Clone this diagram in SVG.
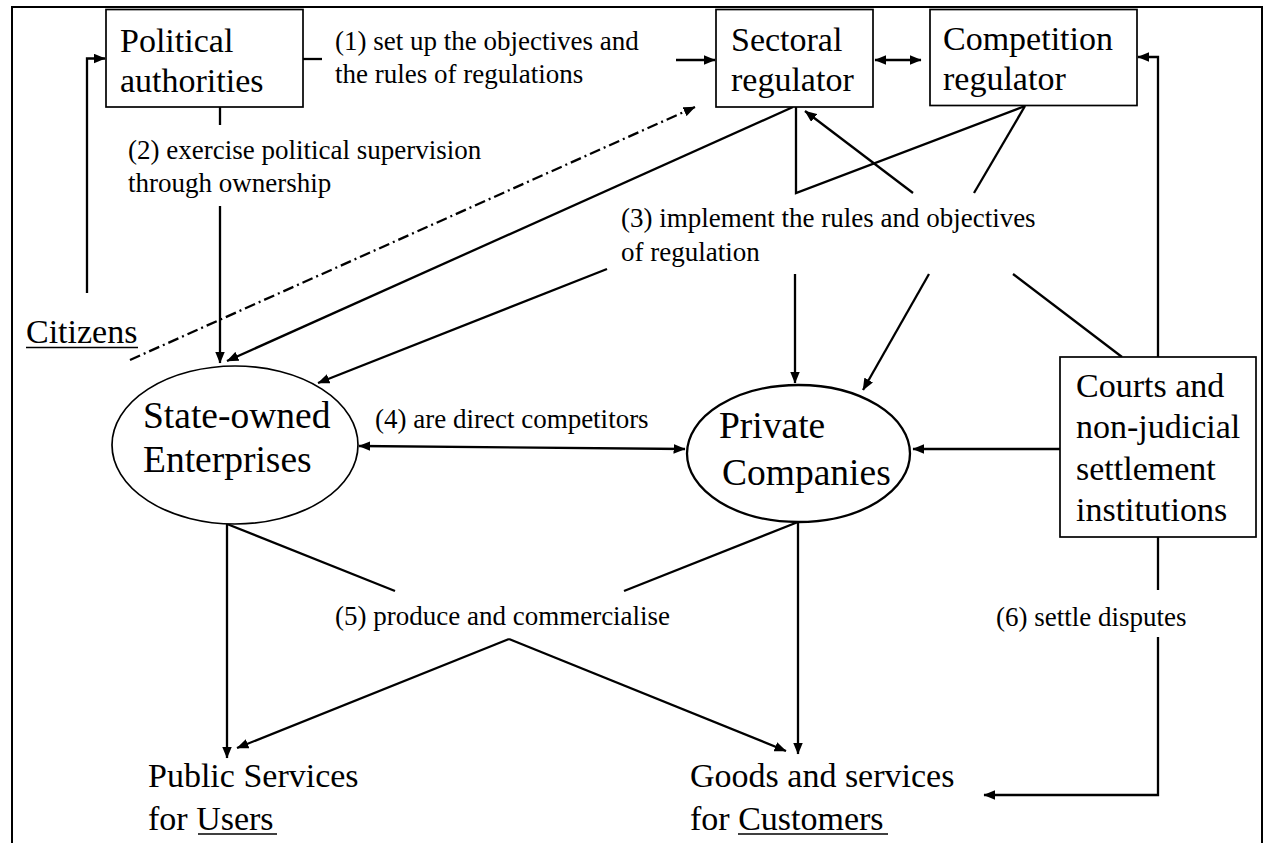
<svg xmlns="http://www.w3.org/2000/svg" width="1265" height="843" viewBox="0 0 1265 843" font-family="Liberation Serif, Times New Roman, serif">
  <defs>
    <marker id="arrow" markerUnits="userSpaceOnUse" markerWidth="12" markerHeight="10" viewBox="0 0 11 9" refX="10.5" refY="4.5" orient="auto-start-reverse">
      <path d="M0,0 L11,4.5 L0,9 z" fill="#000"/>
    </marker>
    <style>
      .frame { fill: none; stroke: #000; stroke-width: 2; }
      .box { fill: #fff; stroke: #000; stroke-width: 1.7; }
      .oval { fill: #fff; stroke: #000; }
      .node { font-size: 34px; fill: #000; }
      .big { font-size: 37.5px; }
      .label { font-size: 27px; fill: #000; }
      .conn { fill: none; stroke: #000; stroke-width: 2.3; }
      .arr { marker-end: url(#arrow); }
      .both { marker-start: url(#arrow); marker-end: url(#arrow); }
      .dashdot { stroke-dasharray: 11 4 2 4; }
      .uline { stroke: #000; stroke-width: 1.5; }
    </style>
  </defs>

  <rect width="1265" height="843" fill="#fff"/>

  <!-- outer frame, open at the bottom -->
  <path class="frame" d="M12,843 V7 H1262 V843"/>

  <!-- connectors -->
  <g id="connectors">
    <!-- citizens elect political authorities -->
    <path class="conn arr" d="M87,293 V58.5 H105"/>
    <!-- (1) political authorities to sectoral regulator -->
    <path class="conn" d="M303,59 H322"/>
    <path class="conn arr" d="M676,60 H715"/>
    <!-- regulators cooperate -->
    <path class="conn both" d="M875,60 H921"/>
    <!-- (2) supervision through ownership -->
    <path class="conn" d="M220,107 V125"/>
    <path class="conn arr" d="M220,206 V363"/>
    <!-- citizens to sectoral regulator (dash-dot) -->
    <path class="conn arr dashdot" d="M130,360 L695,107"/>
    <!-- sectoral regulator to state-owned enterprises -->
    <path class="conn arr" d="M793,107 L227,361"/>
    <!-- (3) regulators converge on the label -->
    <path class="conn" d="M796,107 V193 L1025,106"/>
    <path class="conn arr" d="M913,193 L805,111"/>
    <path class="conn" d="M1025,106 L974,193"/>
    <!-- (3) from the label down to the enterprises -->
    <path class="conn arr" d="M607,269 L318,383"/>
    <path class="conn arr" d="M795,274 V383"/>
    <path class="conn arr" d="M929,274 L863,390"/>
    <path class="conn" d="M1013,274 L1122,357"/>
    <!-- (4) direct competitors -->
    <path class="conn both" d="M359,446 L685,449"/>
    <!-- courts to private companies -->
    <path class="conn arr" d="M1060,449 H913"/>
    <!-- courts to competition regulator -->
    <path class="conn arr" d="M1158,357 V57 H1138"/>
    <!-- (5) produce and commercialise -->
    <path class="conn arr" d="M227,524 V758"/>
    <path class="conn" d="M227,524 L395,591"/>
    <path class="conn arr" d="M798,522 V754"/>
    <path class="conn" d="M798,522 L624,591"/>
    <path class="conn arr" d="M509,639 L237,748"/>
    <path class="conn arr" d="M509,639 L786,751"/>
    <!-- (6) settle disputes -->
    <path class="conn" d="M1158,537 V590"/>
    <path class="conn arr" d="M1158,637 V795 H984"/>
  </g>

  <!-- connector labels -->
  <g id="labels">
    <text class="label" x="335" y="50">(1) set up the objectives and</text>
    <text class="label" x="335" y="83">the rules of regulations</text>
    <text class="label" x="128" y="159">(2) exercise political supervision</text>
    <text class="label" x="128" y="192">through ownership</text>
    <text class="label" x="621" y="227">(3) implement the rules and objectives</text>
    <text class="label" x="621" y="261">of regulation</text>
    <text class="label" x="375" y="428">(4) are direct competitors</text>
    <text class="label" x="335" y="625">(5) produce and commercialise</text>
    <text class="label" x="996" y="626">(6) settle disputes</text>
  </g>

  <!-- nodes -->
  <g id="political">
    <rect class="box" x="106" y="9.5" width="197" height="97.5"/>
    <text class="node" x="120" y="52">Political</text>
    <text class="node" x="120" y="92">authorities</text>
  </g>

  <g id="sectoral">
    <rect class="box" x="716" y="9.5" width="157" height="97.5"/>
    <text class="node" x="731" y="51">Sectoral</text>
    <text class="node" x="731" y="91">regulator</text>
  </g>

  <g id="competition">
    <rect class="box" x="930" y="9.5" width="207" height="96"/>
    <text class="node" x="943" y="50">Competition</text>
    <text class="node" x="943" y="90">regulator</text>
  </g>

  <g id="citizens">
    <text class="node" x="26" y="343">Citizens</text>
    <line class="uline" x1="26" y1="347.5" x2="138" y2="347.5"/>
  </g>

  <g id="state-owned">
    <ellipse class="oval" cx="235" cy="445" rx="123" ry="79" stroke-width="1.7"/>
    <text class="node big" x="143" y="428">State-owned</text>
    <text class="node big" x="143" y="472">Enterprises</text>
  </g>

  <g id="private">
    <ellipse class="oval" cx="798.5" cy="453.5" rx="111.5" ry="68.5" stroke-width="2.3"/>
    <text class="node big" x="719" y="438">Private</text>
    <text class="node big" x="722" y="485">Companies</text>
  </g>

  <g id="courts">
    <rect class="box" x="1060" y="357" width="196" height="180"/>
    <text class="node" x="1076" y="397">Courts and</text>
    <text class="node" x="1076" y="438">non-judicial</text>
    <text class="node" x="1076" y="480">settlement</text>
    <text class="node" x="1076" y="521">institutions</text>
  </g>

  <g id="public-services">
    <text class="node" x="148" y="787">Public Services</text>
    <text class="node" x="148" y="830">for Users</text>
    <line class="uline" x1="198" y1="834" x2="277" y2="834"/>
  </g>

  <g id="goods-services">
    <text class="node" x="690" y="787">Goods and services</text>
    <text class="node" x="690" y="830">for Customers</text>
    <line class="uline" x1="738" y1="834" x2="888" y2="834"/>
  </g>
</svg>
